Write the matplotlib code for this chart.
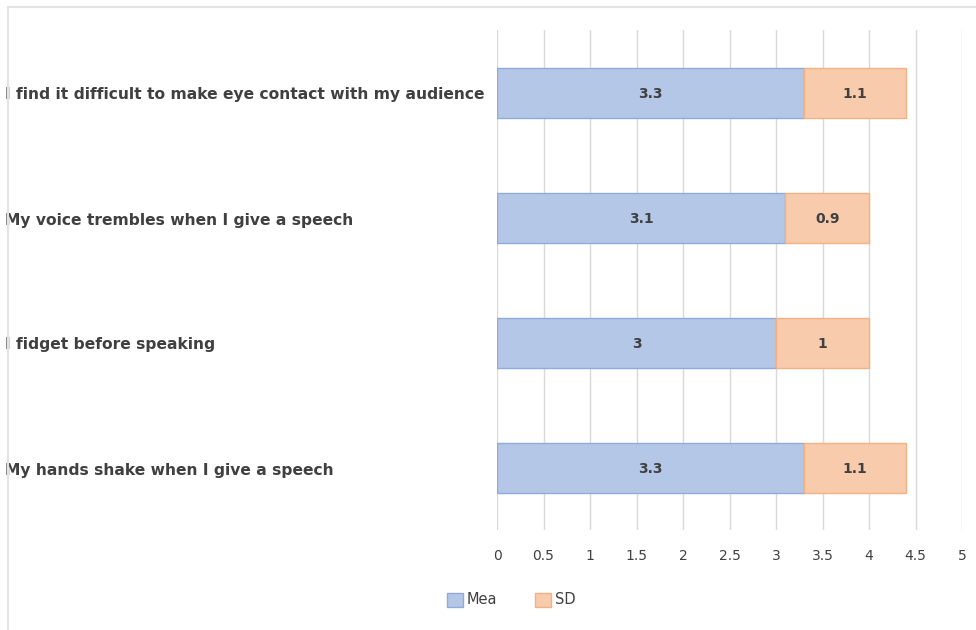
import matplotlib.pyplot as plt
import matplotlib.transforms as mtransforms
from matplotlib.patches import Rectangle

# Speaking anxiety items, mean and standard deviation
items = [
    'I find it difficult to make eye contact with my audience',
    'My voice trembles when I give a speech',
    'I fidget before speaking',
    'My hands shake when I give a speech',
]
mean_vals = [3.3, 3.1, 3.0, 3.3]
sd_vals = [1.1, 0.9, 1.0, 1.1]
mean_text = ['3.3', '3.1', '3', '3.3']
sd_text = ['1.1', '0.9', '1', '1.1']
xticks = [0, 0.5, 1, 1.5, 2, 2.5, 3, 3.5, 4, 4.5, 5]
xtick_labels = ['0', '0.5', '1', '1.5', '2', '2.5', '3', '3.5', '4', '4.5', '5']

BLUE = '#b4c7e7'
BLUE_EDGE = '#8faadc'
ORANGE = '#f8cbad'
ORANGE_EDGE = '#f4b183'
TEXT = '#404040'

fig = plt.figure(figsize=(9.76, 6.3), dpi=100)
ax = fig.add_axes([497 / 976, 100 / 630, 465 / 976, 500 / 630])

pos = list(range(len(items)))
ax.barh(pos, mean_vals, height=0.4, color=BLUE, edgecolor=BLUE_EDGE,
        linewidth=1, label='Mea', zorder=3)
ax.barh(pos, sd_vals, left=mean_vals, height=0.4, color=ORANGE,
        edgecolor=ORANGE_EDGE, linewidth=1, label='SD', zorder=3)

for i in pos:
    ax.text(mean_vals[i] / 2, i + 0.01, mean_text[i], ha='center', va='center',
            fontsize=10, color=TEXT, fontweight='bold', zorder=4)
    ax.text(mean_vals[i] + sd_vals[i] / 2, i + 0.01, sd_text[i], ha='center',
            va='center', fontsize=10, color=TEXT, fontweight='bold', zorder=4)

ax.set_xlim(0, 5)
ax.set_ylim(3.5, -0.5)
ax.set_xticks(xticks)
ax.set_xticklabels(xtick_labels)
ax.set_yticks([])
ax.tick_params(axis='x', length=0, pad=14, labelsize=10, labelcolor=TEXT)
ax.grid(axis='x', color='#d9d9d9', linewidth=1, zorder=0)
for s in ax.spines.values():
    s.set_visible(False)

# category labels, left aligned against the chart frame
trans = mtransforms.blended_transform_factory(fig.transFigure, ax.transData)
for i, name in enumerate(items):
    ax.text(5 / 976, i + 0.02, name, transform=trans, ha='left', va='center',
            fontsize=11.2, color=TEXT, fontweight='bold')

fig.legend(loc='center', bbox_to_anchor=(511 / 976, 30 / 630), ncol=2,
           frameon=False, fontsize=10.5, handlelength=1.1, handleheight=1.1,
           handletextpad=0.25, columnspacing=2.6, labelcolor=TEXT)

fig.patches.append(Rectangle((8 / 976, -0.02), 1.0, (623 / 630) + 0.02,
                             transform=fig.transFigure, fill=False,
                             edgecolor='#e3e3e3', linewidth=1.5))

fig.savefig('out.png', dpi=100)
